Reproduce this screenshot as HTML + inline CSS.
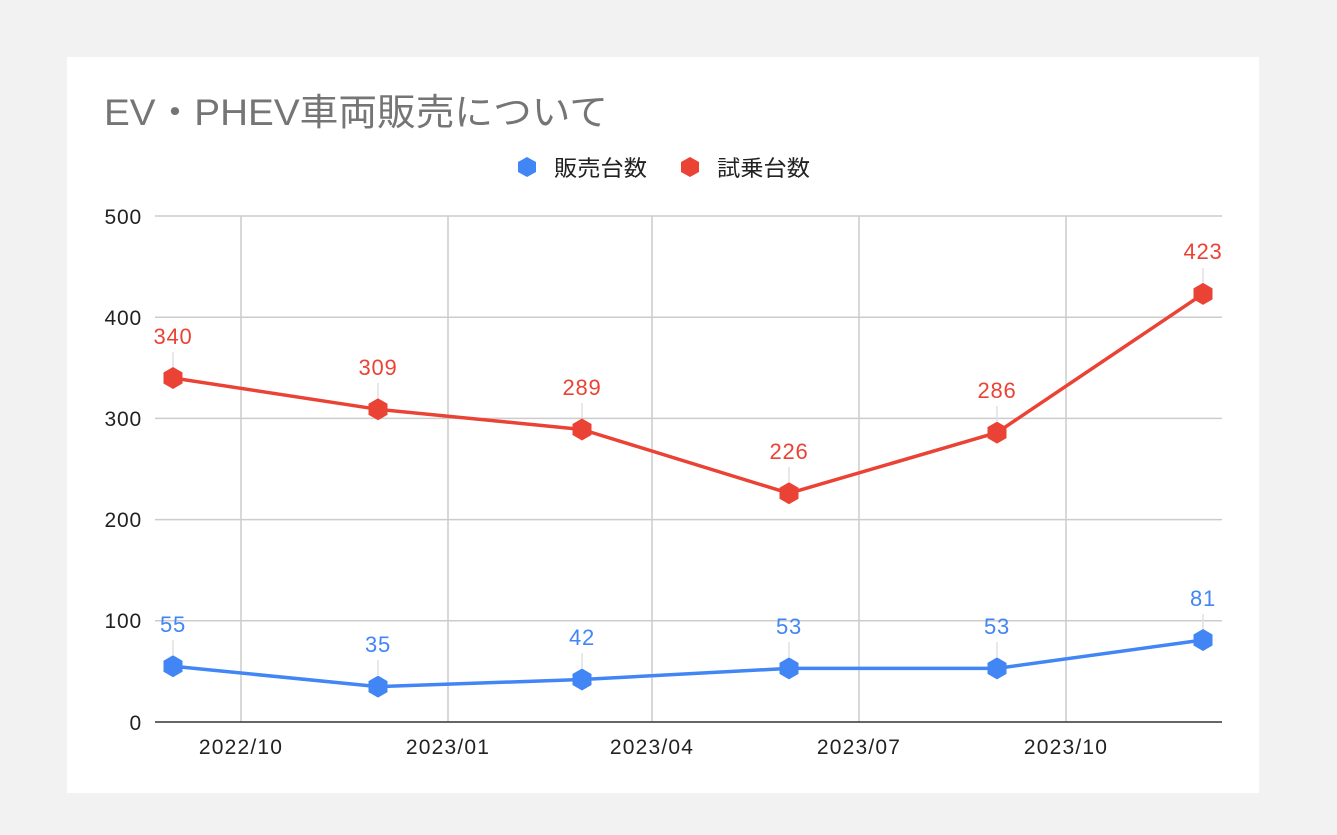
<!DOCTYPE html>
<html><head><meta charset="utf-8"><style>
html,body{margin:0;padding:0;background:#f2f2f2;width:1337px;height:835px;overflow:hidden}
svg{position:absolute;left:0;top:0}
text{font-family:"Liberation Sans","Noto Sans CJK JP",sans-serif}
</style></head><body>
<svg width="1337" height="835" viewBox="0 0 1337 835">
<rect x="67" y="57" width="1192" height="736" fill="#fff"/>
<text x="104" y="125" font-size="37" fill="#757575" textLength="504" lengthAdjust="spacingAndGlyphs">EV・PHEV車両販売について</text>
<polygon points="527,157 536,162 536,172 527,177 518,172 518,162" fill="#4285f4"/>
<text x="554" y="176" font-size="22" fill="#222" textLength="93" lengthAdjust="spacingAndGlyphs">販売台数</text>
<polygon points="690,157 699,162 699,172 690,177 681,172 681,162" fill="#ea4335"/>
<text x="717" y="176" font-size="22" fill="#222" textLength="93" lengthAdjust="spacingAndGlyphs">試乗台数</text>
<g stroke="#cccccc" stroke-width="1.5">
<line x1="155" y1="216" x2="1222" y2="216"/>
<line x1="155" y1="317.2" x2="1222" y2="317.2"/>
<line x1="155" y1="418.4" x2="1222" y2="418.4"/>
<line x1="155" y1="519.6" x2="1222" y2="519.6"/>
<line x1="155" y1="620.8" x2="1222" y2="620.8"/>
<line x1="241" y1="216" x2="241" y2="722"/>
<line x1="448" y1="216" x2="448" y2="722"/>
<line x1="652" y1="216" x2="652" y2="722"/>
<line x1="859" y1="216" x2="859" y2="722"/>
<line x1="1066" y1="216" x2="1066" y2="722"/>
</g>
<line x1="155" y1="722" x2="1222" y2="722" stroke="#333" stroke-width="1.5"/>
<g font-size="21" fill="#222" text-anchor="end" letter-spacing="0.8">
<text x="142" y="224">500</text><text x="142" y="325">400</text><text x="142" y="426">300</text><text x="142" y="527">200</text><text x="142" y="628">100</text><text x="142" y="730">0</text>
</g>
<g font-size="21" fill="#222" text-anchor="middle" letter-spacing="1.2">
<text x="241" y="754">2022/10</text><text x="448" y="754">2023/01</text><text x="652" y="754">2023/04</text><text x="859" y="754">2023/07</text><text x="1066" y="754">2023/10</text>
</g>
<g stroke="#e0e0e0" stroke-width="1.5">
<line x1="173" y1="367" x2="173" y2="352"/><line x1="378" y1="398" x2="378" y2="383"/><line x1="582" y1="418" x2="582" y2="403"/><line x1="789" y1="482" x2="789" y2="467"/><line x1="997" y1="421" x2="997" y2="406"/><line x1="1203" y1="283" x2="1203" y2="268"/>
<line x1="173" y1="655" x2="173" y2="640"/><line x1="378" y1="675" x2="378" y2="660"/><line x1="582" y1="668" x2="582" y2="653"/><line x1="789" y1="657" x2="789" y2="642"/><line x1="997" y1="657" x2="997" y2="642"/><line x1="1203" y1="629" x2="1203" y2="614"/>
</g>
<polyline points="173,378 378,409.3 582,429.5 789,493.3 997,432.6 1203,293.9" fill="none" stroke="#ea4335" stroke-width="3.5" stroke-linejoin="round"/>
<polyline points="173,666.3 378,686.6 582,679.5 789,668.4 997,668.4 1203,640" fill="none" stroke="#4285f4" stroke-width="3.5" stroke-linejoin="round"/>
<defs><polygon id="h" points="0,-11 9.5,-5.5 9.5,5.5 0,11 -9.5,5.5 -9.5,-5.5"/></defs>
<g fill="#ea4335">
<use href="#h" x="173" y="378"/><use href="#h" x="378" y="409.3"/><use href="#h" x="582" y="429.5"/><use href="#h" x="789" y="493.3"/><use href="#h" x="997" y="432.6"/><use href="#h" x="1203" y="293.9"/>
</g>
<g fill="#4285f4">
<use href="#h" x="173" y="666.3"/><use href="#h" x="378" y="686.6"/><use href="#h" x="582" y="679.5"/><use href="#h" x="789" y="668.4"/><use href="#h" x="997" y="668.4"/><use href="#h" x="1203" y="640"/>
</g>
<g font-size="22" fill="#ea4335" text-anchor="middle" letter-spacing="0.8">
<text x="173" y="344">340</text><text x="378" y="375">309</text><text x="582" y="395">289</text><text x="789" y="459">226</text><text x="997" y="398">286</text><text x="1203" y="259">423</text>
</g>
<g font-size="22" fill="#4285f4" text-anchor="middle" letter-spacing="0.8">
<text x="173" y="632">55</text><text x="378" y="652">35</text><text x="582" y="645">42</text><text x="789" y="634">53</text><text x="997" y="634">53</text><text x="1203" y="606">81</text>
</g>
</svg>
</body></html>
